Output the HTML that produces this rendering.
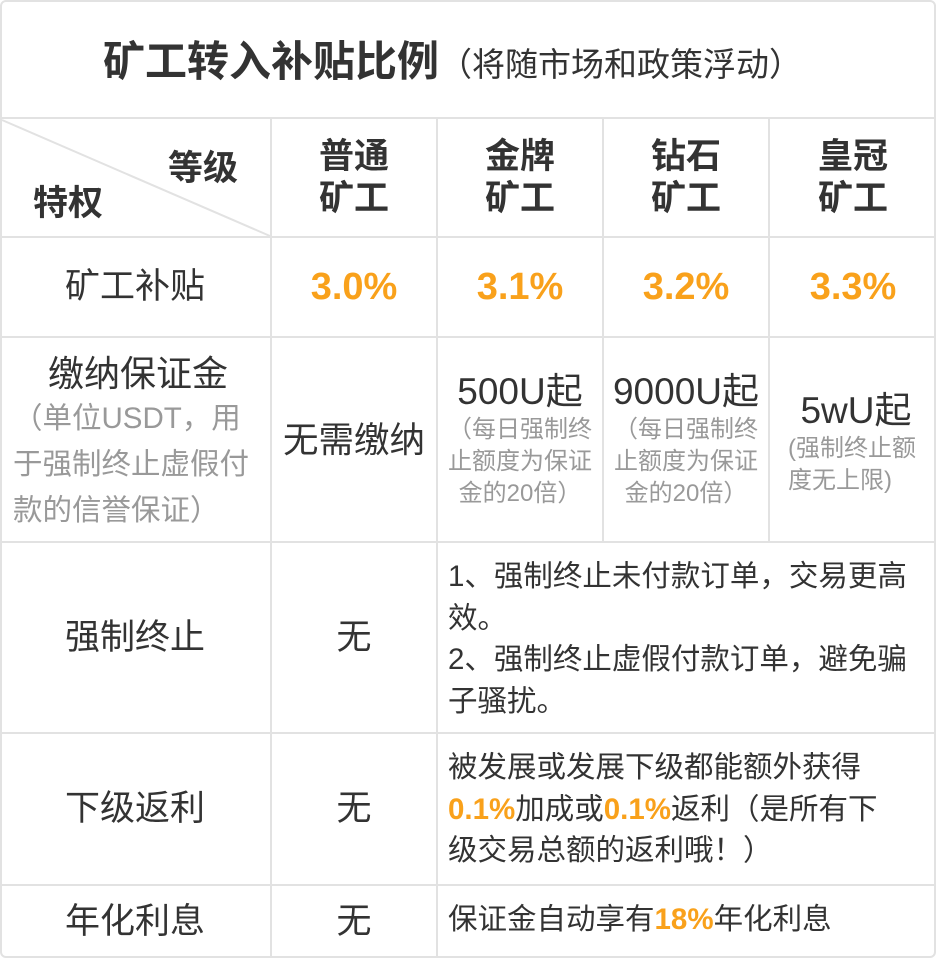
<!DOCTYPE html>
<html><head><meta charset="utf-8"><style>
body{margin:0;background:#fff;}
#t{position:relative;width:936px;height:958px;overflow:hidden;font-family:"Liberation Sans","Noto Sans CJK SC",sans-serif;color:#333;background:#fff;}
.h{position:absolute;left:0;width:936px;height:2px;background:#e2e2e2;}
.v{position:absolute;width:2px;background:#e2e2e2;}
.c{position:absolute;text-align:center;display:flex;flex-direction:column;justify-content:center;align-items:center;}
.o{color:#f9a11b;}
.b{font-size:35px;line-height:42px;}
.s{font-size:24px;line-height:32px;color:#999;}
.d{position:absolute;left:448px;width:472px;font-size:29.5px;line-height:41.5px;}
</style></head><body>
<div id="t">
<div style="position:absolute;left:0;top:0;width:932px;height:954px;border:2px solid #e2e2e2;border-radius:6px;"></div>
<div class="h" style="top:117px"></div><div class="h" style="top:236px"></div><div class="h" style="top:336px"></div>
<div class="h" style="top:541px"></div><div class="h" style="top:732px"></div><div class="h" style="top:884px"></div>
<div class="v" style="left:270px;top:118px;height:840px"></div>
<div class="v" style="left:436px;top:118px;height:840px"></div>
<div class="v" style="left:602px;top:118px;height:424px"></div>
<div class="v" style="left:768px;top:118px;height:424px"></div>
<svg style="position:absolute;left:0;top:118px" width="272" height="120"><line x1="2" y1="2" x2="270" y2="118" stroke="#e2e2e2" stroke-width="2"/></svg>

<div style="position:absolute;left:103px;top:36px;font-size:42px;font-weight:bold;line-height:52px;white-space:nowrap">矿工转入补贴比例<span style="font-weight:normal;font-size:33px">（将随市场和政策浮动）</span></div>

<div style="position:absolute;left:168px;top:140px;font-size:35px;font-weight:bold">等级</div>
<div style="position:absolute;left:33px;top:175px;font-size:35px;font-weight:bold">特权</div>
<div class="c" style="left:272px;top:119px;width:164px;height:117px;font-size:35px;font-weight:bold;line-height:42px">普通<br>矿工</div>
<div class="c" style="left:438px;top:119px;width:164px;height:117px;font-size:35px;font-weight:bold;line-height:42px">金牌<br>矿工</div>
<div class="c" style="left:604px;top:119px;width:164px;height:117px;font-size:35px;font-weight:bold;line-height:42px">钻石<br>矿工</div>
<div class="c" style="left:770px;top:119px;width:166px;height:117px;font-size:35px;font-weight:bold;line-height:42px">皇冠<br>矿工</div>

<div class="c b" style="left:0;top:238px;width:270px;height:98px">矿工补贴</div>
<div class="c o" style="left:272px;top:238px;width:164px;height:98px;font-size:38px;font-weight:bold">3.0%</div>
<div class="c o" style="left:438px;top:238px;width:164px;height:98px;font-size:38px;font-weight:bold">3.1%</div>
<div class="c o" style="left:604px;top:238px;width:164px;height:98px;font-size:38px;font-weight:bold">3.2%</div>
<div class="c o" style="left:770px;top:238px;width:166px;height:98px;font-size:38px;font-weight:bold">3.3%</div>

<div class="c" style="left:10px;top:341px;width:256px;height:203px"><div style="font-size:36px;line-height:44px">缴纳保证金</div><div style="font-size:29.5px;line-height:46px;color:#999;text-align:left;width:250px">（单位USDT，用于强制终止虚假付款的信誉保证）</div></div>
<div class="c b" style="left:272px;top:338px;width:164px;height:203px;font-size:35.5px">无需缴纳</div>
<div class="c" style="left:438px;top:338px;width:164px;height:203px"><div style="font-size:37px;line-height:44px">500U起</div><div class="s" style="width:150px">（每日强制终止额度为保证金的20倍）</div></div>
<div class="c" style="left:604px;top:338px;width:164px;height:203px"><div style="font-size:37px;line-height:44px">9000U起</div><div class="s" style="width:150px">（每日强制终止额度为保证金的20倍）</div></div>
<div class="c" style="left:776px;top:341px;width:160px;height:203px"><div style="font-size:37px;line-height:44px">5wU起</div><div class="s" style="width:136px;text-align:left">(强制终止额度无上限)</div></div>

<div class="c b" style="left:0;top:543px;width:270px;height:189px">强制终止</div>
<div class="c b" style="left:272px;top:543px;width:164px;height:189px">无</div>
<div class="d" style="top:556px">1、强制终止未付款订单，交易更高效。<br>2、强制终止虚假付款订单，避免骗子骚扰。</div>

<div class="c b" style="left:0;top:734px;width:270px;height:150px">下级返利</div>
<div class="c b" style="left:272px;top:734px;width:164px;height:150px">无</div>
<div class="d" style="top:747px;width:488px;white-space:nowrap">被发展或发展下级都能额外获得<br><span class="o" style="font-weight:bold">0.1%</span>加成或<span class="o" style="font-weight:bold">0.1%</span>返利（是所有下<br>级交易总额的返利哦！）</div>

<div class="c b" style="left:0;top:886px;width:270px;height:72px">年化利息</div>
<div class="c b" style="left:272px;top:886px;width:164px;height:72px">无</div>
<div class="d" style="top:899px;white-space:nowrap">保证金自动享有<span class="o" style="font-weight:bold">18%</span>年化利息</div>
</div>
</body></html>
